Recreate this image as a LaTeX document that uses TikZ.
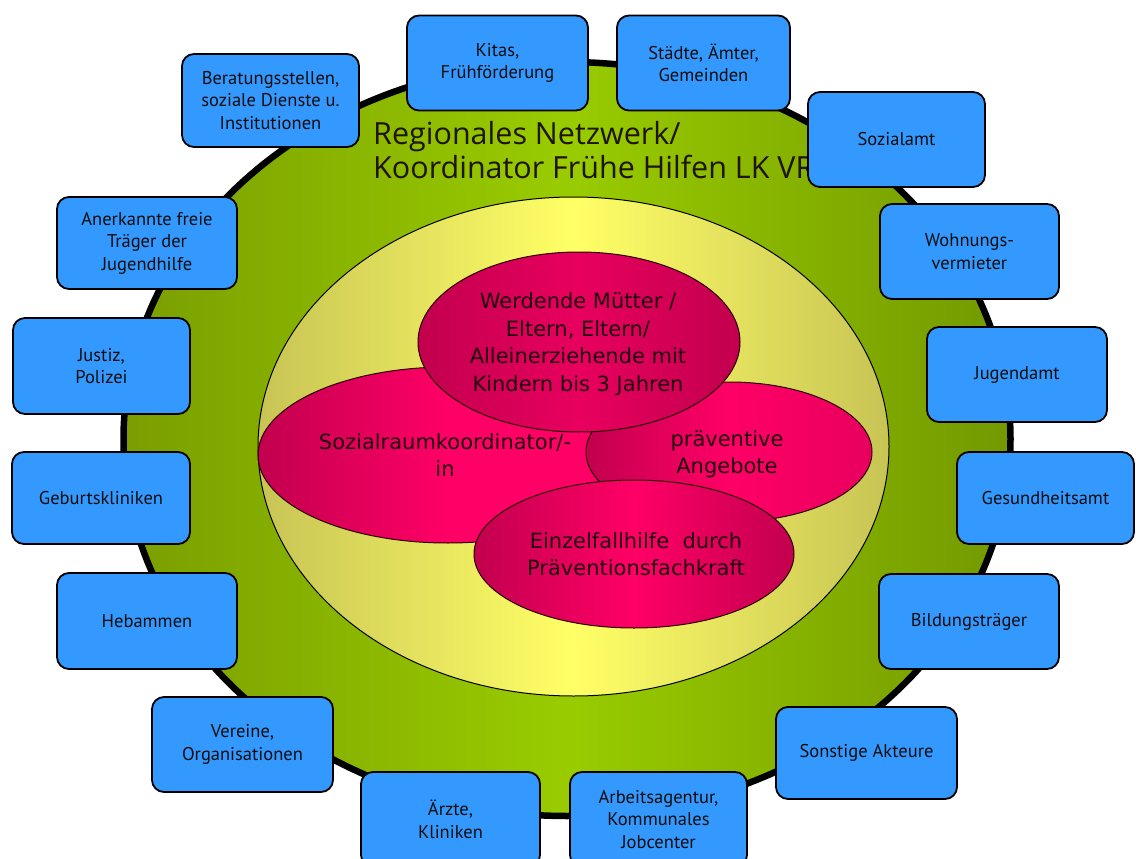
\documentclass[tikz,border=0pt]{standalone}
\usepackage{fontspec}
\setmainfont{PT Sans}
\newfontfamily\titlefont{Open Sans}
\newfontfamily\ellfont{DejaVu Sans}
\usetikzlibrary{shapes.geometric}
\definecolor{boxblue}{HTML}{3399FF}
\definecolor{greenedge}{HTML}{7A9E00}
\definecolor{greenedgeR}{HTML}{739900}
\definecolor{greenmid}{HTML}{99CC00}
\definecolor{yelledge}{HTML}{C8C455}
\definecolor{yellmid}{HTML}{FFFF66}
\definecolor{pinkbright}{HTML}{FF0066}
\definecolor{pinkdark}{HTML}{C2004E}
\definecolor{pinkmid}{HTML}{E8005E}
\definecolor{elltext}{HTML}{22000E}
\definecolor{titletext}{HTML}{1E1400}
\tikzset{
  actor/.style={draw=black, line width=1.8pt, fill=boxblue, rounded corners=12pt,
    align=center, inner sep=2pt, text=black!95,
    font=\fontsize{18.5}{22.5}\selectfont},
  pinkell/.style={ellipse, draw=black!85!red, line width=1pt, inner sep=0pt},
  elltxt/.style={align=center, text=elltext, inner sep=0pt,
    font=\ellfont\fontsize{21}{27.5}\selectfont},
  titletxt/.style={align=left, text=titletext, inner sep=0pt,
    font=\titlefont\fontsize{30.5}{34}\selectfont}
}
\begin{document}
\begin{tikzpicture}[x=1pt,y=-1pt]
\useasboundingbox (0,0) rectangle (1136,859);
\fill[white] (0,0) rectangle (1136,859);

% outer network ellipse
\node[ellipse, draw=black, line width=6.5pt, inner sep=0pt,
  minimum width=887pt, minimum height=754pt,
  left color=greenedge, right color=greenedgeR, middle color=greenmid] (net) at (567,439) {};

% inner yellow ellipse
\node[ellipse, draw=black, line width=1pt, inner sep=0pt,
  minimum width=631pt, minimum height=499pt,
  left color=yelledge, right color=yelledge, middle color=yellmid] (inner) at (573.5,446.5) {};

% title
\node[titletxt, anchor=north west] (title) at (373,121) {Regionales Netzwerk/\\Koordinator Frühe Hilfen LK VR};

% pink ellipses
\node[pinkell, minimum width=380pt, minimum height=176pt,
  left color=pinkdark, right color=pinkbright, middle color=pinkbright] (soz) at (448,455) {};
\node[elltxt] (soztext) at (445,455) {Sozialraumkoordinator/-\\in};

\node[pinkell, minimum width=286pt, minimum height=140pt,
  left color=pinkdark, right color=pinkmid, middle color=pinkbright] (praev) at (729,452) {};
\node[elltxt] (praevtext) at (727,454) {präventive\\Angebote};

\node[pinkell, minimum width=322pt, minimum height=180pt,
  left color=pinkdark, right color=pinkdark, middle color=pinkmid] (werd) at (579,342) {};
\node[elltxt] (werdtext) at (578,344) {Werdende Mütter /\\Eltern, Eltern/\\Alleinerziehende mit\\Kindern bis 3 Jahren};

\node[pinkell, minimum width=320pt, minimum height=148pt,
  left color=pinkdark, right color=pinkdark, middle color=pinkbright] (einz) at (634,554) {};
\node[elltxt] (einztext) at (636,554) {Einzelfallhilfe\ \ durch\\Präventionsfachkraft};

% actor boxes
\node[actor, minimum width=177pt, minimum height=93pt] (berat) at (270.5,100.5) {Beratungsstellen,\\soziale Dienste u.\\Institutionen};
\node[actor, minimum width=181pt, minimum height=95pt] (kitas) at (497.5,63) {Kitas,\\Frühförderung};
\node[actor, minimum width=173pt, minimum height=95pt] (staedte) at (703.5,63) {Städte, Ämter,\\Gemeinden};
\node[actor, minimum width=177pt, minimum height=95pt] (sozamt) at (896.5,139.5) {Sozialamt};
\node[actor, minimum width=179pt, minimum height=95pt] (wohn) at (969.5,251.5) {Wohnungs-\\vermieter};
\node[actor, minimum width=180pt, minimum height=95pt] (jugend) at (1017,374.5) {Jugendamt};
\node[actor, minimum width=177pt, minimum height=92pt] (gesund) at (1045.5,498) {Gesundheitsamt};
\node[actor, minimum width=180pt, minimum height=95pt] (bildung) at (969,621.5) {Bildungsträger};
\node[actor, minimum width=181pt, minimum height=92pt] (sonst) at (866.5,753) {Sonstige Akteure};
\node[actor, minimum width=177pt, minimum height=95pt] (arbeit) at (658.5,819.5) {Arbeitsagentur,\\Kommunales\\Jobcenter};
\node[actor, minimum width=179pt, minimum height=95pt] (aerzte) at (450.5,819.5) {Ärzte,\\Kliniken};
\node[actor, minimum width=181pt, minimum height=95pt] (vereine) at (242.5,744.5) {Vereine,\\Organisationen};
\node[actor, minimum width=180pt, minimum height=96pt] (hebammen) at (147,621) {Hebammen};
\node[actor, minimum width=178pt, minimum height=92pt] (geburt) at (101,498) {Geburtskliniken};
\node[actor, minimum width=177pt, minimum height=96pt] (justiz) at (101.5,366) {Justiz,\\Polizei};
\node[actor, minimum width=180pt, minimum height=92pt] (anerk) at (147,243) {Anerkannte freie\\Träger der\\Jugendhilfe};
\end{tikzpicture}
\end{document}
